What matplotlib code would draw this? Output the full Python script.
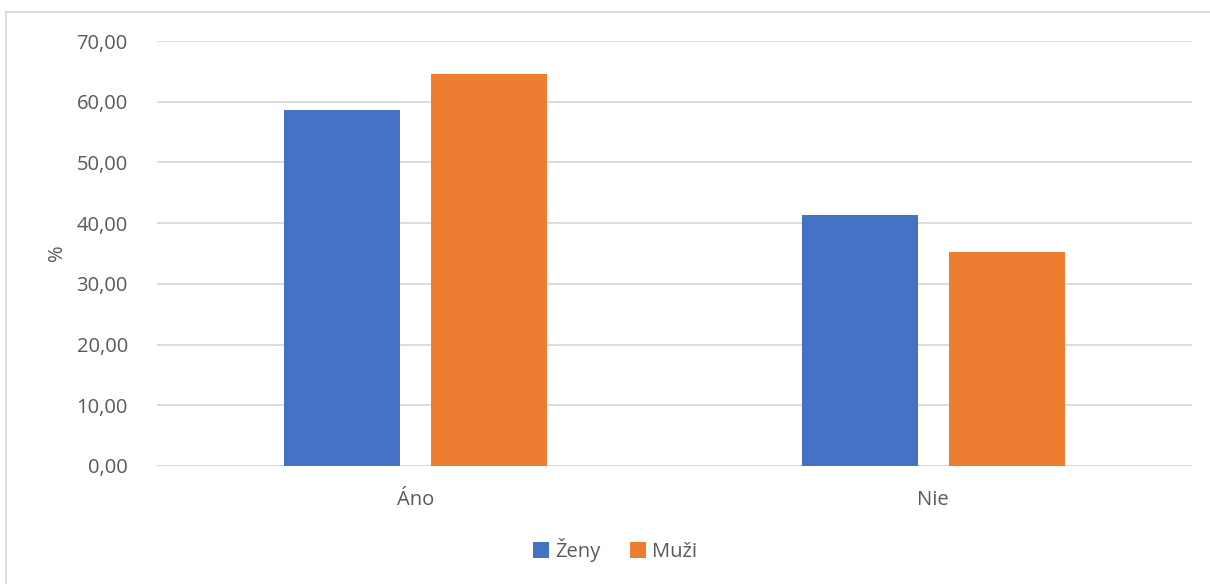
import matplotlib
matplotlib.use('Agg')
import matplotlib.pyplot as plt
from matplotlib.lines import Line2D
import numpy as np

plt.rcParams['font.family'] = ['Open Sans', 'DejaVu Sans']

# data
categories = ['Áno', 'Nie']
zeny = [58.6, 41.4]
muzi = [64.6, 35.3]
series_names = ['Ženy', 'Muži']
yticks = [0, 10, 20, 30, 40, 50, 60, 70]

BLUE = '#4472C4'
ORANGE = '#ED7D31'
GRID = '#D9D9D9'
TEXT = '#595959'
FS = 14.5

W, H = 1210, 584
fig = plt.figure(figsize=(W / 100, H / 100), dpi=100)
ax = fig.add_axes([157 / W, 1 - 466 / H, (1192 - 157) / W, (466 - 41) / H])

x = np.arange(len(categories))
bw = 0.224
gap = 0.06
off = (bw + gap) / 2
ax.bar(x - off, zeny, bw, color=BLUE, label=series_names[0], zorder=3)
ax.bar(x + off, muzi, bw, color=ORANGE, label=series_names[1], zorder=3)

ax.set_xlim(-0.5, len(categories) - 0.5)
ax.set_ylim(0, 70)
ax.set_yticks(yticks)
ax.set_yticklabels([f'{v:.2f}'.replace('.', ',') for v in yticks])
ax.set_xticks(x)
ax.set_xticklabels(categories)
ax.tick_params(axis='both', length=0, colors=TEXT, labelsize=FS)
ax.tick_params(axis='y', pad=21)
ax.tick_params(axis='x', pad=17)
ax.grid(axis='y', color=GRID, linewidth=1.3, zorder=0)
for s in ax.spines.values():
    s.set_visible(False)
ax.axhline(0, color=GRID, linewidth=1.3, zorder=2)

fig.text(57 / W, 1 - 253 / H, '%', rotation=90, ha='center', va='center',
         color=TEXT, fontsize=FS)

leg = fig.legend(loc='center', bbox_to_anchor=(615 / W, 1 - 550 / H), ncol=2,
                 frameon=False, fontsize=FS, handlelength=0.8, handleheight=0.8,
                 handletextpad=0.3, columnspacing=1.5)
for t in leg.get_texts():
    t.set_color(TEXT)

# outer chart border (top and left edges visible)
fig.add_artist(Line2D([6 / W, 1], [1 - 11.5 / H, 1 - 11.5 / H], color=GRID, linewidth=1.3))
fig.add_artist(Line2D([6 / W, 6 / W], [0, 1 - 11.5 / H], color=GRID, linewidth=1.3))

fig.savefig('out.png', dpi=100, facecolor='white')
